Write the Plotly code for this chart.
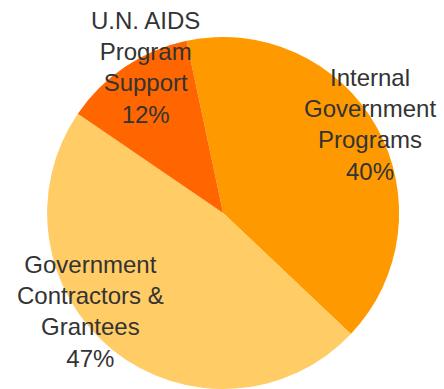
import plotly.graph_objects as go

# Data
categories = ["Internal<br>Government<br>Programs",
              "Government<br>Contractors &<br>Grantees",
              "U.N. AIDS<br>Program<br>Support"]
values = [40, 47, 12]
colors = ["#FF9900", "#FFCC66", "#FF6600"]

W, H = 444, 389
# label block centers in pixels (layout)
label_pos = [(370, 124), (90, 311), (145, 68)]

fig = go.Figure()
fig.add_trace(go.Pie(
    labels=categories,
    values=values,
    sort=False,
    direction="clockwise",
    rotation=-12,
    marker=dict(colors=colors, line=dict(width=0)),
    textinfo="none",
    hoverinfo="skip",
    showlegend=False,
    domain=dict(x=[0.005, 1.0], y=[0.0, 352 / H]),
))

for cat, val, (px, py) in zip(categories, values, label_pos):
    fig.add_annotation(
        x=px / W, y=1 - py / H, xref="paper", yref="paper",
        text=f"{cat}<br>{val}%", showarrow=False,
        xanchor="center", yanchor="middle", align="center",
        font=dict(family="Liberation Sans, Arial, sans-serif", size=24, color="#333333"),
    )

fig.update_layout(
    width=W, height=H,
    margin=dict(l=0, r=0, t=0, b=0),
    paper_bgcolor="white", plot_bgcolor="white",
)

fig.write_html("out.html")
